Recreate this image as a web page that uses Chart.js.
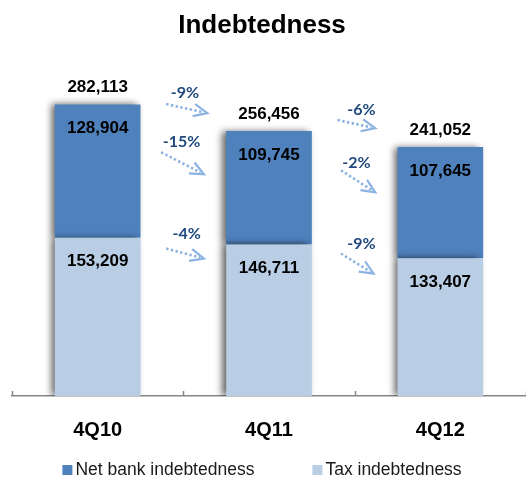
<!DOCTYPE html>
<html>
<head>
<meta charset="utf-8">
<script src="https://cdn.jsdelivr.net/npm/chart.js@4.4.1/dist/chart.umd.min.js"></script>
<style>
  html, body { margin: 0; padding: 0; background: #ffffff; overflow: hidden; }
  #wrap { width: 526px; height: 479px; position: relative; }
</style>
</head>
<body>
<div id="wrap"><canvas id="c" width="526" height="479"></canvas></div>
<script>
// ---- data ----
const categories = ['4Q10', '4Q11', '4Q12'];
const netBankIndebtedness = [128904, 109745, 107645];
const taxIndebtedness = [153209, 146711, 133407];
const totals = [282113, 256456, 241052];
const seriesNames = ['Net bank indebtedness', 'Tax indebtedness'];
const chartTitle = 'Indebtedness';

// change annotations (category index, value) for arrow start/end and label
const changeArrows = [
  { series: 'total', from: [0.40, 282500], to: [0.64, 273800], label: [0.51, 293200] },
  { series: 'net',   from: [0.37, 235900], to: [0.62, 214600], label: [0.49, 245600] },
  { series: 'tax',   from: [0.40, 142700], to: [0.62, 133000], label: [0.52, 157300] },
  { series: 'total', from: [1.40, 267000], to: [1.62, 259200], label: [1.54, 276700] },
  { series: 'net',   from: [1.42, 218400], to: [1.62, 197100], label: [1.51, 225200] },
  { series: 'tax',   from: [1.42, 137900], to: [1.61, 118400], label: [1.54, 147600] }
];

const DARK = '#4F81BD';
const LIGHT = '#B9CDE5';
const FONT = '"Liberation Sans", Arial, Helvetica, sans-serif';

function fmt(v) { return v.toLocaleString('en-US'); }
function pctChange(arr, i) { return Math.round((arr[i + 1] / arr[i] - 1) * 100) + '%'; }

const seriesMap = { total: totals, net: netBankIndebtedness, tax: taxIndebtedness };

const deco = {
  id: 'deco',
  beforeDatasetsDraw(chart) {
    const c = chart.ctx;
    c.save();
    c.shadowColor = 'rgba(0,0,0,0.6)';
    c.shadowBlur = 7;
    c.shadowOffsetX = -4;
    c.shadowOffsetY = 0;
  },
  afterDatasetsDraw(chart) {
    const c = chart.ctx;
    c.restore();
    const xs = chart.scales.x, ys = chart.scales.y;
    c.save();
    c.fillStyle = '#000';
    c.textAlign = 'center';
    c.textBaseline = 'middle';
    c.font = 'bold 17px ' + FONT;
    [0, 1].forEach(di => {
      const meta = chart.getDatasetMeta(di);
      meta.data.forEach((el, i) => {
        const v = chart.data.datasets[di].data[i];
        c.fillText(fmt(v), el.x, el.y + 24);
      });
    });
    const topMeta = chart.getDatasetMeta(1);
    topMeta.data.forEach((el, i) => {
      c.fillText(fmt(totals[i]), el.x, el.y - 17);
    });
    c.restore();

    changeArrows.forEach((a) => {
      const x0 = xs.getPixelForValue(a.from[0]), y0 = ys.getPixelForValue(a.from[1]);
      const x1 = xs.getPixelForValue(a.to[0]), y1 = ys.getPixelForValue(a.to[1]);
      const ang = Math.atan2(y1 - y0, x1 - x0);
      const headLen = 15, spread = 0.42;
      c.save();
      c.strokeStyle = '#8DB3E2';
      c.lineWidth = 2.6;
      c.setLineDash([2.4, 2.4]);
      c.beginPath();
      c.moveTo(x0, y0);
      c.lineTo(x1 - Math.cos(ang) * 4, y1 - Math.sin(ang) * 4);
      c.stroke();
      c.setLineDash([]);
      c.lineWidth = 2.2;
      c.beginPath();
      c.moveTo(x1 - headLen * Math.cos(ang - spread), y1 - headLen * Math.sin(ang - spread));
      c.lineTo(x1, y1);
      c.lineTo(x1 - headLen * Math.cos(ang + spread), y1 - headLen * Math.sin(ang + spread));
      c.stroke();
      const idx = Math.floor(a.from[0]);
      const txt = pctChange(seriesMap[a.series], idx);
      c.fillStyle = '#1F497D';
      c.font = 'bold 16px Lato, "Open Sans", sans-serif';
      c.textAlign = 'center';
      c.textBaseline = 'middle';
      c.fillText(txt, xs.getPixelForValue(a.label[0]), ys.getPixelForValue(a.label[1]));
      c.restore();
    });
  },
  afterDraw(chart) {
    const c = chart.ctx;
    const xs = chart.scales.x;
    const area = chart.chartArea;
    c.save();
    c.strokeStyle = '#868686';
    c.lineWidth = 1.5;
    for (let i = 0; i <= categories.length; i++) {
      const px = Math.round(xs.getPixelForValue(i - 0.5)) + 0.5;
      c.beginPath();
      c.moveTo(px, area.bottom);
      c.lineTo(px, area.bottom - 5);
      c.stroke();
    }
    c.restore();

    const cx = 262;
    c.save();
    c.fillStyle = '#000';
    c.textAlign = 'center';
    c.textBaseline = 'middle';
    c.font = 'bold 26px ' + FONT;
    c.fillText(chartTitle, cx, 26);
    c.restore();

    c.save();
    c.font = '17.5px ' + FONT;
    c.textBaseline = 'middle';
    c.textAlign = 'left';
    const box = 10, gapBox = 3, gapItem = 58;
    const w0 = c.measureText(seriesNames[0]).width;
    const w1 = c.measureText(seriesNames[1]).width;
    const total = box + gapBox + w0 + gapItem + box + gapBox + w1;
    let x = cx - total / 2;
    const ly = 470;
    c.fillStyle = DARK;
    c.fillRect(x, ly - 5, box, box);
    x += box + gapBox;
    c.fillStyle = '#1a1a1a';
    c.fillText(seriesNames[0], x, ly);
    x += w0 + gapItem;
    c.fillStyle = LIGHT;
    c.fillRect(x, ly - 5, box, box);
    x += box + gapBox;
    c.fillStyle = '#1a1a1a';
    c.fillText(seriesNames[1], x, ly);
    c.restore();
  }
};

new Chart(document.getElementById('c'), {
  type: 'bar',
  data: {
    labels: categories,
    datasets: [
      { label: seriesNames[1], data: taxIndebtedness, backgroundColor: LIGHT, borderWidth: 0 },
      { label: seriesNames[0], data: netBankIndebtedness, backgroundColor: DARK, borderWidth: 0 }
    ]
  },
  options: {
    responsive: false,
    animation: false,
    events: [],
    layout: { padding: { top: 86, left: 12, right: -5, bottom: 23 } },
    datasets: { bar: { barPercentage: 0.5, categoryPercentage: 1.0 } },
    plugins: { legend: { display: false }, title: { display: false }, tooltip: { enabled: false } },
    scales: {
      x: {
        stacked: true,
        offset: true,
        grid: { display: false },
        border: { display: true, color: '#868686', width: 1.5 },
        ticks: { color: '#000', font: { family: FONT, size: 20, weight: 'bold' }, padding: 14 }
      },
      y: {
        stacked: true,
        display: false,
        min: 0,
        max: 300000
      }
    }
  },
  plugins: [deco]
});
</script>
</body>
</html>
